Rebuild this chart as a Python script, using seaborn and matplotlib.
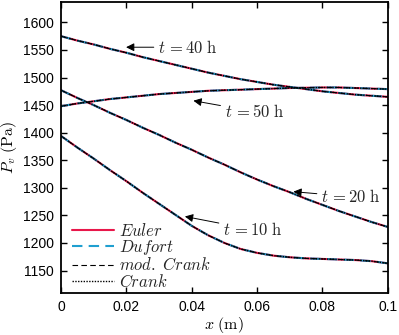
import numpy as np
import pandas as pd
import matplotlib
matplotlib.use("Agg")
import matplotlib.pyplot as plt
import seaborn as sns

# position along the wall (m)
x = [0.000, 0.005, 0.010, 0.015, 0.020, 0.025, 0.030, 0.035, 0.040, 0.045, 0.050,
     0.055, 0.060, 0.065, 0.070, 0.075, 0.080, 0.085, 0.090, 0.095, 0.100]

# vapour pressure profiles (Pa)
p_10h = [1394, 1373, 1353, 1332, 1312, 1291, 1271, 1251, 1231, 1214, 1200,
         1189, 1182, 1177, 1174, 1172, 1171, 1170, 1169, 1167, 1163]
p_20h = [1477, 1463, 1450, 1436, 1423, 1409, 1396, 1382, 1369, 1355, 1342,
         1328, 1315, 1303, 1292, 1280, 1269, 1258, 1248, 1238, 1229]
p_40h = [1575, 1567, 1560, 1552, 1545, 1537, 1530, 1523, 1516, 1509, 1503,
         1497, 1492, 1487, 1483, 1479, 1475, 1472, 1469, 1467, 1465]
p_50h = [1448, 1453, 1457, 1461, 1464, 1467, 1470, 1472, 1474, 1476, 1477,
         1478, 1479, 1480, 1481, 1481.5, 1482, 1482, 1481, 1480, 1479]

times = ["10", "20", "40", "50"]
profiles = [p_10h, p_20h, p_40h, p_50h]

methods = ["$Euler$", "$Dufort$", "$mod.\\ Crank$", "$Crank$"]
colors = ["#e8174a", "#1f9fd0", "black", "black"]
styles = ["-", (0, (5, 3)), (0, (5, 3)), (0, (1, 1))]
widths = [1.5, 1.5, 0.8, 1.0]

xticks = [0, 0.02, 0.04, 0.06, 0.08, 0.1]
xticklabels = ["0", "0.02", "0.04", "0.06", "0.08", "0.1"]
yticks = [1150, 1200, 1250, 1300, 1350, 1400, 1450, 1500, 1550, 1600]

rows = []
for t, prof in zip(times, profiles):
    for xi, pi in zip(x, prof):
        rows.append({"x": xi, "P": pi, "t": t})
df = pd.DataFrame(rows)

sns.set_style("ticks")
plt.rcParams["font.family"] = ["Liberation Sans", "DejaVu Sans"]
plt.rcParams["mathtext.fontset"] = "cm"

fig = plt.figure(figsize=(3.99, 3.35), dpi=100)
ax = fig.add_axes([0.153, 0.125, 0.819, 0.869])

for m, c, ls, lw in zip(methods, colors, styles, widths):
    sns.lineplot(data=df, x="x", y="P", units="t", estimator=None, ax=ax,
                 color=c, linestyle=ls, linewidth=lw, label=m, legend=False)

# one legend entry per method
handles = [plt.Line2D([], [], color=c, linestyle=ls, linewidth=lw)
           for c, ls, lw in zip(colors, styles, widths)]
leg = ax.legend(handles, methods, loc="lower left", bbox_to_anchor=(0.0, -0.025),
                frameon=False, fontsize=12, handlelength=2.5, handletextpad=0.35,
                labelspacing=-0.05, borderaxespad=0.25)

# annotations
notes = [("$t\\,=40\\ \\mathrm{h}$", (0.0199, 1555), (0.0298, 1555)),
         ("$t\\,=50\\ \\mathrm{h}$", (0.0405, 1458), (0.0502, 1438)),
         ("$t\\,=20\\ \\mathrm{h}$", (0.0711, 1293), (0.0797, 1284)),
         ("$t\\,=10\\ \\mathrm{h}$", (0.0379, 1248), (0.0497, 1224))]
for txt, tip, pos in notes:
    ax.annotate(txt, xy=tip, xytext=pos, ha="left", va="center", fontsize=12,
                arrowprops=dict(arrowstyle="-|>", color="black", lw=0.7,
                                mutation_scale=12, shrinkA=1, shrinkB=0))

ax.set_xlim(0, 0.1)
ax.set_ylim(1109, 1637)
ax.set_xticks(xticks)
ax.set_xticklabels(xticklabels)
ax.set_yticks(yticks)
ax.tick_params(direction="in", top=True, right=True, labelsize=10, length=4,
               width=1.0, pad=5, colors="black")
for s in ax.spines.values():
    s.set_linewidth(1.3)
    s.set_color("black")
    s.set_visible(True)

ax.set_xlabel("$x\\ \\mathrm{(m)}$", fontsize=11.5, labelpad=1, color="black")
ax.set_ylabel("$P_v\\ \\mathrm{(Pa)}$", fontsize=11.5, labelpad=3, color="black")

fig.savefig("out.png", dpi=100)
